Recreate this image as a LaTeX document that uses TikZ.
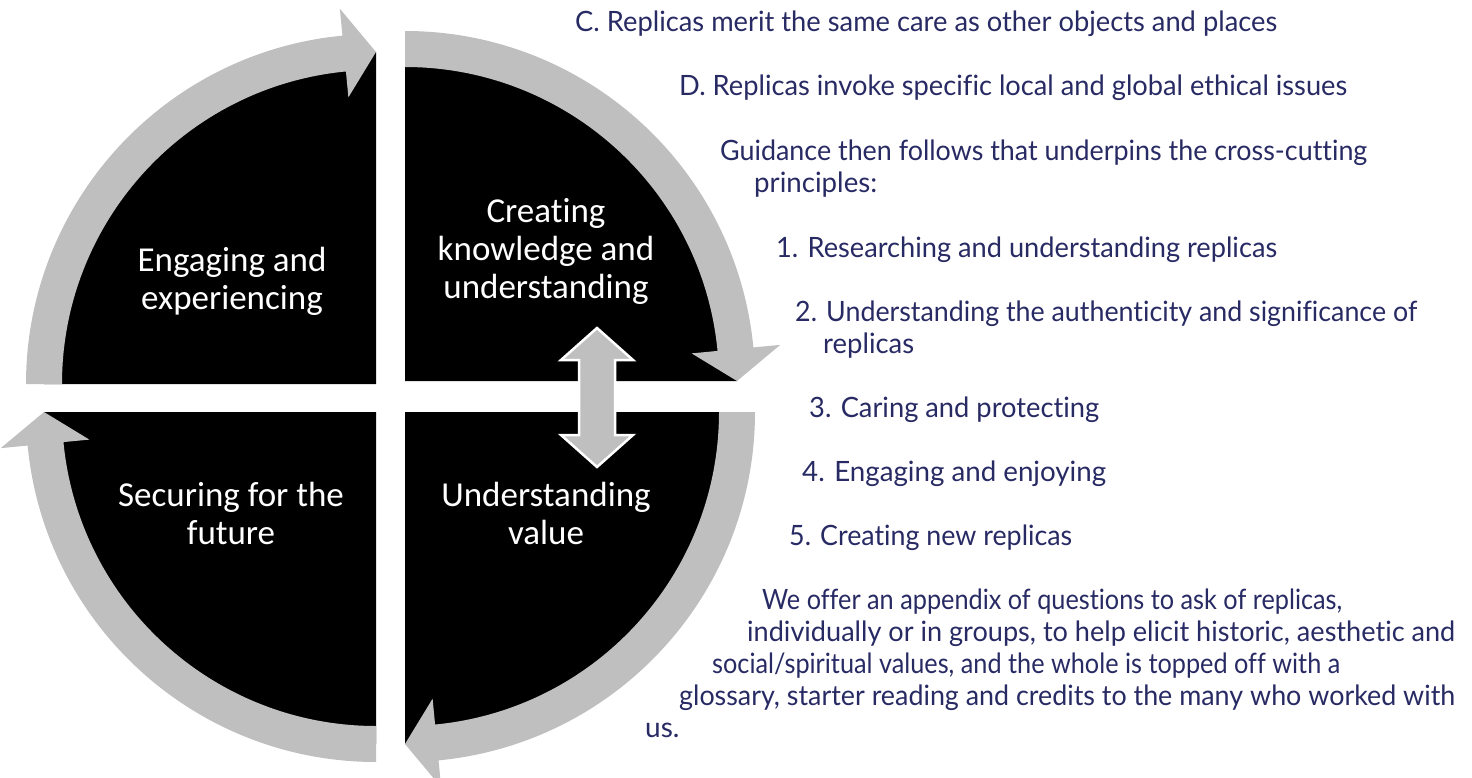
\documentclass[tikz,border=0pt]{standalone}
\usepackage{fontspec}
\usepackage{graphicx}
\newfontfamily\labelfont[RawFeature={-liga;-clig;-dlig;-calt}]{Carlito}
\newfontfamily\bodyfont[RawFeature={-liga;-clig;-dlig;-calt}]{Lato}
\definecolor{ringgray}{RGB}{191,191,191}
\definecolor{navy}{RGB}{40,42,100}
\tikzset{
  ring/.style={fill=ringgray},
  quad/.style={fill=black},
  quadtext/.style={text=white, align=center, font=\labelfont\fontsize{35}{38}\selectfont},
  bodyline/.style={anchor=base west, inner sep=0pt, text=navy, font=\bodyfont\fontsize{28}{32}\selectfont}
}
% one black quarter and its curved arrow, #1 = start angle
\newcommand{\cyclequad}[1]{%
  \fill[quad] (0,0) -- (#1:332) arc[start angle=#1, end angle={#1+90}, radius=332] -- cycle;
  \fill[ring] (#1:314) arc[start angle=#1, end angle={#1+84.5}, radius=314]
    -- ({#1+84.5}:288) -- ({#1+90}:332) -- ({#1+84.5}:377) -- ({#1+84.5}:350)
    arc[start angle={#1+84.5}, end angle=#1, radius=350] -- cycle;}
\newcommand{\fitw}[2]{\resizebox{#1pt}{\height}{#2}}

\begin{document}
\begin{tikzpicture}[x=1pt, y=-1pt]
  \useasboundingbox (0,0) rectangle (1472,778);
\begin{scope}[shift={(376,384)}]
  \cyclequad{180}
\end{scope}
\begin{scope}[shift={(405,381)}]
  \cyclequad{270}
\end{scope}
\begin{scope}[shift={(405,412)}]
  \cyclequad{0}
\end{scope}
\begin{scope}[shift={(376,412)}]
  \cyclequad{90}
\end{scope}
  \node[quadtext] (engage) at (232,281) {Engaging and\\experiencing};
  \node[quadtext] (create) at (546,251) {Creating\\knowledge and\\understanding};
  \node[quadtext] (secure) at (231,513) {Securing for the\\future};
  \node[quadtext] (value) at (546,513) {Understanding\\value};
  \draw[fill=ringgray, draw=white, line width=2.5pt, line join=miter]
    (597,328) -- (633,360) -- (615,360) -- (615,435) -- (633,435) -- (597,467)
    -- (561,435) -- (579,435) -- (579,360) -- (561,360) -- cycle;

  \node[bodyline] (pointc) at (575,32) {\fitw{702}{C. Replicas merit the same care as other objects and places}};
  \node[bodyline] (pointd) at (679,96) {\fitw{668}{D. Replicas invoke specific local and global ethical issues}};
  \node[bodyline] (guide1) at (720,161) {\fitw{647}{Guidance then follows that underpins the cross-cutting}};
  \node[bodyline] (guide2) at (754,193) {\fitw{123}{principles:}};
  \node[bodyline] (prin1) at (776,257) {\fitw{501}{1. Researching and understanding replicas}};
  \node[bodyline] (prin2a) at (795,321) {\fitw{622}{2. Understanding the authenticity and significance of}};
  \node[bodyline] (prin2b) at (823,353) {\fitw{91}{replicas}};
  \node[bodyline] (prin3) at (809,417) {\fitw{290}{3. Caring and protecting}};
  \node[bodyline] (prin4) at (802,481) {\fitw{304}{4. Engaging and enjoying}};
  \node[bodyline] (prin5) at (789,545) {\fitw{283}{5. Creating new replicas}};
  \node[bodyline] (appx1) at (762,609) {\fitw{580}{We offer an appendix of questions to ask of replicas,}};
  \node[bodyline] (appx2) at (747,641) {\fitw{708}{individually or in groups, to help elicit historic, aesthetic and}};
  \node[bodyline] (appx3) at (712,673) {\fitw{628}{social/spiritual values, and the whole is topped off with a}};
  \node[bodyline] (appx4) at (679,705) {\fitw{776}{glossary, starter reading and credits to the many who worked with}};
  \node[bodyline] (appx5) at (645,737) {us.};
\end{tikzpicture}
\end{document}
